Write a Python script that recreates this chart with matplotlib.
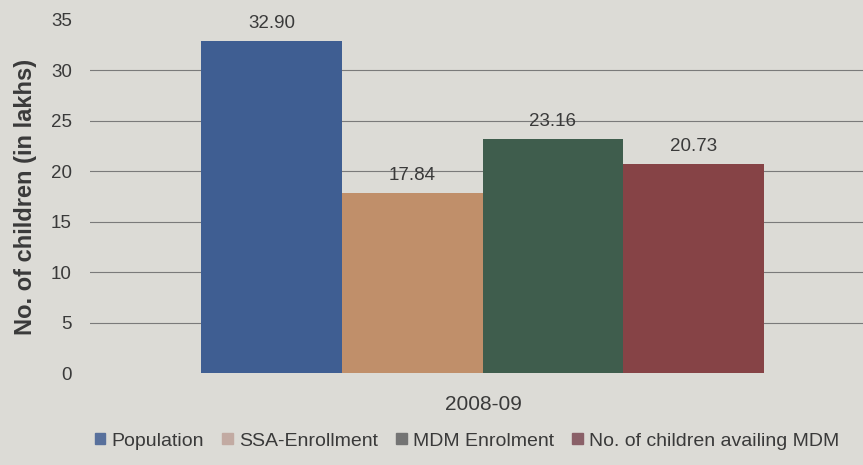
import matplotlib.pyplot as plt
from matplotlib.patches import Patch

# Data
year = '2008-09'
labels = ['Population', 'SSA-Enrollment', 'MDM Enrolment', 'No. of children availing MDM']
values = [32.90, 17.84, 23.16, 20.73]
offsets = [-0.269, -0.090, 0.089, 0.268]

colors = ['#3f5e92', '#c08f6a', '#3f5d4d', '#864346']
legend_colors = ['#58709c', '#c2aaa2', '#747474', '#8a6068']
bg = '#dcdbd6'
txt = '#3a3a3a'
plt.rcParams['font.family'] = ['Liberation Sans', 'DejaVu Sans']

fig = plt.figure(figsize=(8.63, 4.65), dpi=100, facecolor=bg)
ax = fig.add_axes([90 / 863, 92 / 465, 786 / 863, 353 / 465], facecolor=bg)

for i, v in enumerate(values):
    ax.bar(offsets[i], v, width=0.179, color=colors[i], zorder=2)
    ax.text(offsets[i], v + 0.9, f'{v:.2f}', ha='center', va='bottom',
            fontsize=13.5, color=txt)

ax.set_xlim(-0.5, 0.5)
ax.set_ylim(0, 35)
ax.set_yticks(range(0, 36, 5))
ax.set_xticks([0])
ax.set_xticklabels([year], fontsize=15, color=txt)
ax.tick_params(axis='x', length=0, pad=16)
ax.tick_params(axis='y', length=0, pad=13, labelsize=13.5, labelcolor=txt)

ax.grid(axis='y', color='#7a7a7a', linewidth=0.8, zorder=1)
gl = ax.yaxis.get_gridlines()
gl[0].set_visible(False)
gl[-1].set_visible(False)
for s in ax.spines.values():
    s.set_visible(False)

ax.set_ylabel('No. of children (in lakhs)', fontsize=17, fontweight='bold',
              color=txt, labelpad=10)

handles = [Patch(color=c, label=l) for c, l in zip(legend_colors, labels)]
fig.legend(handles=handles, loc='center', bbox_to_anchor=(467 / 863, 1 - 441 / 465),
           ncol=4, frameon=False, handlelength=0.55, handleheight=0.55,
           handletextpad=0.3, columnspacing=0.95,
           prop={'size': 14}, labelcolor=txt)

fig.savefig('out.png', dpi=100, facecolor=bg)
